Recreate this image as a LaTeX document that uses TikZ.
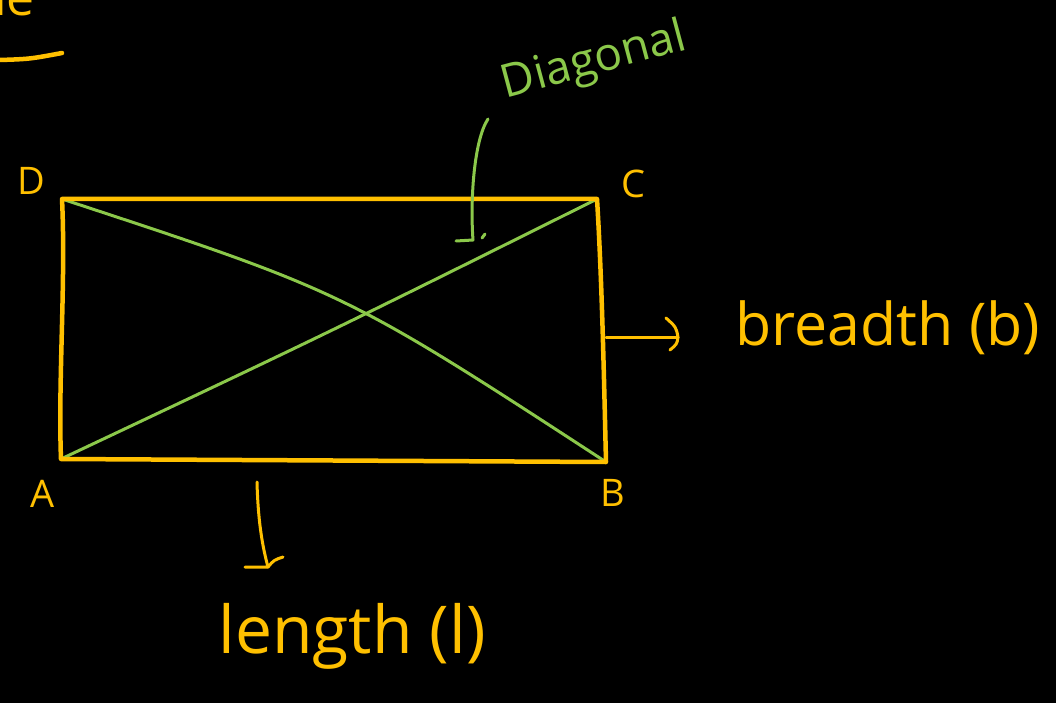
\documentclass[tikz,border=0pt]{standalone}
\usepackage{fontspec}
\setmainfont{Open Sans}
\definecolor{pen}{RGB}{255,192,0}
\definecolor{gpen}{RGB}{139,200,74}
\begin{document}
\begin{tikzpicture}[x=1pt,y=-1pt,
  ypen/.style={draw=pen,line width=4.5pt,line cap=round,line join=round},
  ythin/.style={draw=pen,line width=3pt,line cap=round,line join=round},
  gline/.style={draw=gpen,line width=3pt,line cap=round,line join=round},
  ylab/.style={text=pen,inner sep=0pt,font=\fontsize{38}{38}\selectfont},
  glab/.style={text=gpen,inner sep=0pt,font=\fontsize{46}{46}\selectfont}]
\fill[black] (0,0) rectangle (1056,703);
\clip (0,0) rectangle (1056,703);
% corners
\coordinate (D) at (62,199);
\coordinate (C) at (597,199);
\coordinate (B) at (606,462);
\coordinate (A) at (61,459);
% diagonals
\draw[gline] (D) .. controls (345,292) .. (B);
\draw[gline] (A) .. controls (330,332) .. (C);
% rectangle
\draw[ypen] (A) .. controls (58,380) and (66,280) .. (D) -- (C) .. controls (602,280) and (604,380) .. (B) -- cycle;
% corner labels
\node[ylab] (lD) at (31,181) {D};
\node[ylab] (lC) at (633,184) {C};
\node[ylab] (lA) at (43,494) {A};
\node[ylab] (lB) at (613,493) {B};
% diagonal label and pointer
\node[glab,rotate=15] (dlab) at (594,62) {Diagonal};
\coordinate (dp1) at (488,119);
\coordinate (dp2) at (473,240);
\coordinate (dp3) at (456,241);
\draw[gline] (dp1) .. controls (474,140) and (470,200) .. (dp2) -- (dp3);
\draw[gline] (482,238) -- (485,234);
% breadth
\coordinate (bs) at (606,337);
\coordinate (be) at (678,337);
\draw[ythin] (bs) -- (be);
\draw[ythin] (666,318) .. controls (676,327) .. (be) .. controls (677,344) .. (670,350);
\node[text=pen,inner sep=0pt,font=\fontsize{59}{59}\selectfont] (blab) at (888,328) {breadth (b)};
% length
\coordinate (ls) at (257,482);
\coordinate (le) at (268,567);
\draw[ythin] (ls) .. controls (258,520) and (262,545) .. (le) -- (245,567);
\draw[ythin] (le) .. controls (274,560) .. (283,557);
\node[text=pen,inner sep=0pt,font=\fontsize{66}{66}\selectfont] (llab) at (352,636) {length (l)};
% heading fragment
\node[text=pen,inner sep=0pt,font=\fontsize{50}{50}\selectfont,anchor=base west] (head) at (-6,16) {le};
\draw[ypen] (0,60) .. controls (30,59) .. (62,53);
\end{tikzpicture}
\end{document}
